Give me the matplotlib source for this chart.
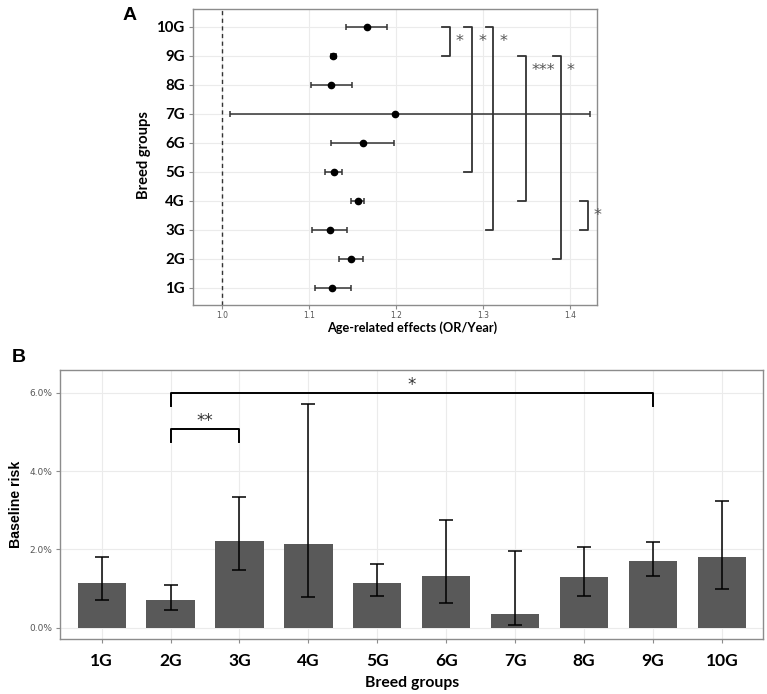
import numpy as np
import matplotlib.pyplot as plt
from matplotlib.ticker import FuncFormatter

# panel A: age-related effects (OR/year) with 95% CI
groups = ['1G', '2G', '3G', '4G', '5G', '6G', '7G', '8G', '9G', '10G']
or_est = [1.127, 1.149, 1.124, 1.157, 1.129, 1.162, 1.199, 1.125, 1.128, 1.167]
or_low = [1.107, 1.135, 1.104, 1.149, 1.119, 1.125, 1.010, 1.102, 1.125, 1.143]
or_high = [1.148, 1.162, 1.144, 1.163, 1.138, 1.198, 1.423, 1.150, 1.131, 1.190]

# brackets A: (group from, group to, x of bracket, label, label x, label y)
brackets_a = [
    ('10G', '9G', 1.262, '*', 1.273, 8.5),
    ('10G', '5G', 1.287, '*', 1.299, 8.5),
    ('10G', '3G', 1.312, '*', 1.324, 8.5),
    ('9G', '4G', 1.349, '***', 1.369, 7.5),
    ('9G', '2G', 1.390, '*', 1.401, 7.5),
    ('4G', '3G', 1.421, '*', 1.432, 2.5),
]

# panel B: baseline risk (%)
risk = [1.15, 0.70, 2.22, 2.15, 1.15, 1.31, 0.34, 1.29, 1.70, 1.81]
risk_low = [0.72, 0.44, 1.48, 0.78, 0.81, 0.62, 0.06, 0.81, 1.31, 1.00]
risk_high = [1.81, 1.10, 3.34, 5.72, 1.63, 2.74, 1.97, 2.05, 2.19, 3.24]

# brackets B: (group from, group to, top y, label)
brackets_b = [
    ('2G', '9G', 6.0, '*'),
    ('2G', '3G', 5.08, '**'),
]

CAL = ['Lato', 'DejaVu Sans']
grid_c = '#ebebeb'
border_c = '#8c8c8c'

fig = plt.figure(figsize=(7.67, 6.94), dpi=100)

# ---------------- panel A
ax = fig.add_axes([0.2516, 0.5605, 0.5267, 0.4265])
y = np.arange(len(groups))
est = np.array(or_est)
ax.errorbar(est, y, xerr=[est - np.array(or_low), np.array(or_high) - est],
            fmt='o', color='black', ecolor='#333333', elinewidth=1.1,
            capsize=2.5, capthick=1.1, markersize=4.5, zorder=3)
ax.axvline(1.0, color='#333333', ls=(0, (3, 2.5)), lw=1, zorder=2)

for g1, g2, bx, lab, lx, ly in brackets_a:
    y1 = groups.index(g1)
    y2 = groups.index(g2)
    ax.plot([bx - 0.009, bx, bx, bx - 0.009], [y1, y1, y2, y2],
            color='#333333', lw=1.3, zorder=4, clip_on=False)
    ax.text(lx, ly, lab, ha='center', va='center', fontsize=11.5,
            color='#555555', clip_on=False)

ax.set_xlim(0.967, 1.431)
ax.set_ylim(-0.6, 9.62)
ax.set_xticks([1.0, 1.1, 1.2, 1.3, 1.4])
ax.set_xticklabels(['1.0', '1.1', '1.2', '1.3', '1.4'])
ax.set_yticks(y)
ax.set_yticklabels(groups, family=CAL, fontweight='bold', fontsize=10.8)
ax.tick_params(axis='x', labelsize=5.5, labelcolor='#555555', color='#8c8c8c',
               length=3, pad=1.5)
ax.tick_params(axis='y', color='#8c8c8c', length=3, pad=3)
ax.grid(True, color=grid_c, lw=0.8)
ax.set_axisbelow(True)
for s in ax.spines.values():
    s.set_color(border_c)
    s.set_linewidth(1)
ax.set_xlabel('Age-related effects (OR/Year)', family=CAL, fontweight='bold',
              fontsize=9.2)
ax.xaxis.set_label_coords(0.542, -0.054)
ax.set_ylabel('Breed groups', family=CAL, fontweight='bold', fontsize=10.6)
ax.yaxis.set_label_coords(-0.105, 0.505)
fig.text(130 / 767, 1 - 15 / 694, 'A', fontsize=14, fontweight='bold',
         family='Liberation Sans', ha='center', va='center')

# ---------------- panel B
bx_ = fig.add_axes([0.0786, 0.0788, 0.9166, 0.3885])
x = np.arange(len(groups))
r = np.array(risk)
bx_.bar(x, r, width=0.7, color='#595959', zorder=2)
bx_.errorbar(x, r, yerr=[r - np.array(risk_low), np.array(risk_high) - r],
             fmt='none', ecolor='black', elinewidth=1.1, capsize=5,
             capthick=1.1, zorder=3)

for g1, g2, top, lab in brackets_b:
    x1 = groups.index(g1)
    x2 = groups.index(g2)
    bx_.plot([x1, x1, x2, x2], [top - 0.34, top, top, top - 0.34],
             color='black', lw=1.4, zorder=4)
    bx_.text((x1 + x2) / 2, top + 0.2, lab, ha='center', va='center',
             fontsize=12, color='#333333')

bx_.set_xlim(-0.6, 9.6)
bx_.set_ylim(-0.296, 6.59)
bx_.set_xticks(x)
bx_.set_xticklabels(groups, family=CAL, fontweight='bold', fontsize=12.5)
bx_.set_yticks([0, 2, 4, 6])
bx_.yaxis.set_major_formatter(FuncFormatter(lambda v, p: '%.1f%%' % v))
bx_.tick_params(axis='y', labelsize=6.5, labelcolor='#555555',
                color='#8c8c8c', length=3, pad=3)
bx_.tick_params(axis='x', color='#8c8c8c', length=3, pad=7)
bx_.grid(True, color=grid_c, lw=0.8)
bx_.set_axisbelow(True)
for s in bx_.spines.values():
    s.set_color(border_c)
    s.set_linewidth(1)
bx_.set_xlabel('Breed groups', family=CAL, fontweight='bold', fontsize=11.3,
               labelpad=5)
bx_.set_ylabel('Baseline risk', family='Liberation Sans', fontweight='bold',
               fontsize=10.2, labelpad=4)
fig.text(12 / 767, 1 - 357 / 694, 'B', fontsize=14, fontweight='bold',
         family='Liberation Sans', ha='left', va='center')

fig.savefig('out.png', dpi=100)
